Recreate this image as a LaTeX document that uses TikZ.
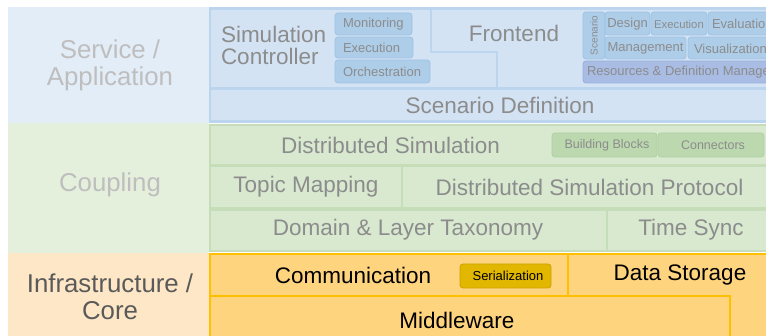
\documentclass[tikz,border=0pt]{standalone}
\usepackage{fontspec}
\setmainfont{Liberation Sans}
\definecolor{bandBlue}{HTML}{E3EDF8}
\definecolor{bandGreen}{HTML}{E4F0DC}
\definecolor{bandOrange}{HTML}{FDE7C6}
\definecolor{blueFill}{HTML}{D3E3F4}
\definecolor{blueLine}{HTML}{BCD5EE}
\definecolor{pillBlue}{HTML}{ADCDE9}
\definecolor{pillBlueLine}{HTML}{9EC3E5}
\definecolor{pillPurple}{HTML}{A8BCE4}
\definecolor{pillPurpleLine}{HTML}{98AEDC}
\definecolor{greenFill}{HTML}{D8E9D0}
\definecolor{greenLine}{HTML}{C5DDB8}
\definecolor{pillGreen}{HTML}{BCD8AF}
\definecolor{pillGreenLine}{HTML}{B0D0A2}
\definecolor{orangeFill}{HTML}{FFD47F}
\definecolor{orangeLine}{HTML}{FFC000}
\definecolor{serialFill}{HTML}{E2B700}
\definecolor{serialLine}{HTML}{C9A300}
\definecolor{softText}{HTML}{8C8C8C}
\definecolor{bandText}{HTML}{BEBEBE}
\definecolor{coreText}{HTML}{5A5A5A}
\begin{document}
\begin{tikzpicture}[x=1pt,y=-1pt,
  every node/.style={inner sep=0pt, outer sep=0pt},
  band/.style={draw=none, anchor=north west},
  bandlabel/.style={font=\fontsize{25.8}{27}\selectfont, align=center},
  bluebox/.style={fill=blueFill, draw=blueLine, line width=2pt},
  greenbox/.style={fill=greenFill, draw=greenLine, line width=2pt, anchor=north west},
  orangebox/.style={fill=orangeFill, draw=orangeLine, line width=2.2pt},
  bluepill/.style={fill=pillBlue, draw=pillBlueLine, line width=0.8pt, rounded corners=3pt, anchor=north west},
  purplepill/.style={fill=pillPurple, draw=pillPurpleLine, line width=0.8pt, rounded corners=3pt, anchor=north west},
  greenpill/.style={fill=pillGreen, draw=pillGreenLine, line width=0.8pt, rounded corners=3pt, anchor=north west},
  serialpill/.style={fill=serialFill, draw=serialLine, line width=0.8pt, rounded corners=3pt, anchor=north west},
  bigtext/.style={font=\fontsize{22.5}{24}\selectfont},
  smalltext/.style={font=\fontsize{13}{14}\selectfont},
  tinytext/.style={font=\fontsize{11.3}{12}\selectfont},
]
\useasboundingbox (0,0) rectangle (766,336);
\clip (0,0) rectangle (766,336);
\fill[white] (0,0) rectangle (766,336);

% layer bands on the left
\node[band, fill=bandBlue, minimum width=201pt, minimum height=116pt] (bandS) at (8,7) {};
\node[band, fill=bandGreen, minimum width=201pt, minimum height=130pt] (bandC) at (8,123) {};
\node[band, fill=bandOrange, minimum width=201pt, minimum height=90pt] (bandI) at (8,253) {};
\node[bandlabel, text=bandText] (lblS) at (110,65) {Service /\\Application};
\node[bandlabel, text=bandText] (lblC) at (110,185) {Coupling};
\node[bandlabel, text=coreText] (lblI) at (110,297) {Infrastructure /\\Core};

% service / application layer
\fill[blueLine] (209,7) rectangle (800,123);
\draw[bluebox] (210,9) -- (431,9) -- (431,52) -- (497,52) -- (497,88) -- (210,88) -- cycle;
\draw[bluebox] (431,9) -- (800,9) -- (800,88) -- (497,88) -- (497,52) -- (431,52) -- cycle;
\node[bigtext, text=softText, align=left, anchor=west] (simctl) at (221,45) {Simulation\\[-2pt]Controller};
\node[bigtext, text=softText] (front) at (514,33) {Frontend};

\node[bluepill, minimum width=77pt, minimum height=22pt] (mon) at (335,13) {};
\node[bluepill, minimum width=78pt, minimum height=21pt] (exe) at (335,37) {};
\node[bluepill, minimum width=95pt, minimum height=23pt] (orch) at (335,60) {};
\node[smalltext, text=softText, anchor=west] (monT) at (343,24) {Monitoring};
\node[smalltext, text=softText, anchor=west] (exeT) at (343,47.5) {Execution};
\node[smalltext, text=softText, anchor=west] (orchT) at (343,71.5) {Orchestration};

\node[bluepill, minimum width=22pt, minimum height=47pt] (scn) at (583,12) {};
\node[font=\fontsize{10}{11}\selectfont, text=softText, rotate=90] (scnT) at (594,35.5) {Scenario};
\node[bluepill, minimum width=45pt, minimum height=23pt] (des) at (605,12) {};
\node[bluepill, minimum width=56pt, minimum height=23pt] (fexe) at (651,12) {};
\node[bluepill, minimum width=90pt, minimum height=23pt] (eva) at (708,12) {};
\node[bluepill, minimum width=81pt, minimum height=22pt] (man) at (605,37) {};
\node[bluepill, minimum width=110pt, minimum height=22pt] (vis) at (688,37) {};
\node[purplepill, minimum width=215pt, minimum height=22pt] (res) at (583,61) {};
\node[smalltext, text=softText] (desT) at (627.5,24) {Design};
\node[tinytext, text=softText] (fexeT) at (679,24) {Execution};
\node[smalltext, text=softText, anchor=west] (evaT) at (712,24) {Evaluation};
\node[smalltext, text=softText] (manT) at (645.5,48.5) {Management};
\node[smalltext, text=softText, anchor=west] (visT) at (694,48.5) {Visualization};
\node[smalltext, text=softText, anchor=west] (resT) at (587,72.5) {Resources \& Definition Management};

\draw[bluebox] (210,89) rectangle (800,121);
\node[bigtext, text=softText] (scenT) at (500,105) {Scenario Definition};

% coupling layer
\node[greenbox, minimum width=590pt, minimum height=40pt] (dsim) at (210,125) {};
\node[bigtext, text=softText] (dsimT) at (390.5,145) {Distributed Simulation};
\node[greenpill, minimum width=105pt, minimum height=24pt] (bb) at (552,133) {};
\node[greenpill, minimum width=106pt, minimum height=24pt] (con) at (658,133) {};
\node[font=\fontsize{12.5}{13}\selectfont, text=softText] (bbT) at (607,145) {Building Blocks};
\node[font=\fontsize{12.5}{13}\selectfont, text=softText] (conT) at (713,145) {Connectors};

\node[greenbox, minimum width=192pt, minimum height=42pt] (topic) at (210,166) {};
\node[greenbox, minimum width=398pt, minimum height=42pt] (dsp) at (402,166) {};
\node[bigtext, text=softText] (topicT) at (306,187) {Topic Mapping};
\node[bigtext, text=softText] (dspT) at (589.5,187) {Distributed Simulation Protocol};

\node[greenbox, minimum width=397pt, minimum height=41pt] (dom) at (210,210) {};
\node[greenbox, minimum width=193pt, minimum height=41pt] (tsync) at (607,210) {};
\node[bigtext, text=softText] (domT) at (408,230) {Domain \& Layer Taxonomy};
\node[bigtext, text=softText] (tsyncT) at (691,230) {Time Sync};

% infrastructure / core layer
\draw[orangebox] (568,254) -- (800,254) -- (800,345) -- (730,345) -- (730,296) -- (568,296) -- cycle;
\draw[orangebox] (210,254) rectangle (568,296);
\draw[orangebox] (210,296) rectangle (730,345);
\node[bigtext, text=black] (commT) at (353,275) {Communication};
\node[serialpill, minimum width=91pt, minimum height=24pt] (ser) at (460,264) {};
\node[font=\fontsize{13}{14}\selectfont, text=black] (serT) at (508,276) {Serialization};
\node[bigtext, text=black] (dataT) at (680,275) {Data Storage};
\node[bigtext, text=black] (mwT) at (457,320) {Middleware};
\end{tikzpicture}
\end{document}
